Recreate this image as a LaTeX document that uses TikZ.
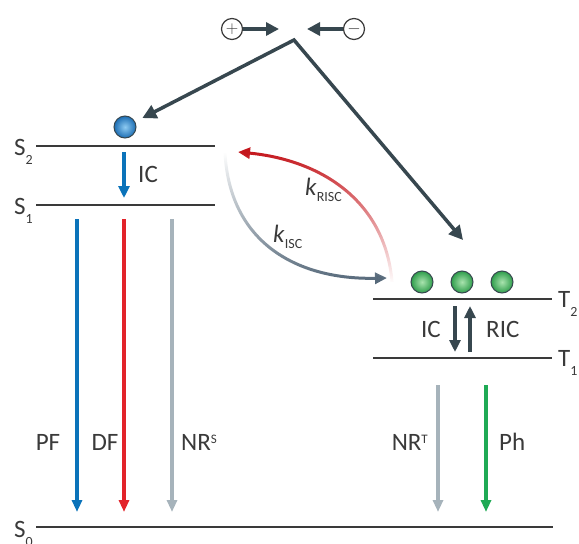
\documentclass[tikz,border=0pt]{standalone}
\usepackage{fontspec}
\setmainfont{Carlito}
\usetikzlibrary{arrows.meta,calc,fadings,positioning}

\definecolor{slate}{HTML}{37474F}
\definecolor{pfblue}{HTML}{0B73BA}
\definecolor{dfred}{HTML}{E2232A}
\definecolor{nrgray}{HTML}{A6B3BB}
\definecolor{phgreen}{HTML}{1FAA55}
\definecolor{risc}{HTML}{C4161C}
\definecolor{isc}{HTML}{56697A}
\definecolor{txt}{HTML}{3A3A3A}
\definecolor{sin}{HTML}{8ECBF2}
\definecolor{sout}{HTML}{1C6DB3}
\definecolor{tin}{HTML}{A9E3AE}
\definecolor{tout}{HTML}{2E9D4B}

\tikzfading[name=fade in, top color=transparent!100, middle color=transparent!75, bottom color=transparent!0]
\tikzfading[name=fade out, top color=transparent!0, middle color=transparent!45, bottom color=transparent!100]

\newcommand{\lvl}[2]{#1\raisebox{-9pt}{\fontsize{14}{14}\selectfont #2}}
\newcommand{\rate}[1]{\textit{k}\raisebox{-6pt}{\fontsize{14}{14}\selectfont #1}}
\newcommand{\supr}[1]{\raisebox{7pt}{\fontsize{13}{13}\selectfont #1}}

\tikzset{
  level/.style={line width=1.3pt, txt},
  decay/.style={-{Triangle[length=12pt,width=10pt]}, line width=3.2pt},
  conv/.style={{Triangle[length=14pt,width=14pt]}-{Triangle[length=14pt,width=14pt]}, line width=3.5pt, slate},
  push/.style={-{Triangle[length=13pt,width=13pt]}, line width=3.8pt, slate},
  ic/.style={-{Triangle[length=12pt,width=11pt]}, line width=3.8pt},
  rate arrow/.style={-{Triangle[length=12pt,width=11pt]}, line width=3pt},
  lbl/.style={font=\fontsize{25}{28}\selectfont, text=txt, inner sep=0pt},
  charge/.style={circle, draw=txt, line width=1.2pt, minimum size=21pt, inner sep=0pt,
    font=\fontsize{18}{18}\selectfont, text=txt},
  sball/.style={circle, draw=slate, line width=1pt, minimum size=22pt, inner sep=0pt,
    inner color=sin, outer color=sout},
  tball/.style={circle, draw=slate, line width=1pt, minimum size=22pt, inner sep=0pt,
    inner color=tin, outer color=tout},
}

\begin{document}
\begin{tikzpicture}[x=1pt,y=-1pt]
  \useasboundingbox (0,0) rectangle (579,544);

  % Charges coming together
  \node[charge] (plus) at (232,29) {$+$};
  \node[charge] (minus) at (354,29) {$-$};
  \coordinate (ptip) at (279,29);
  \coordinate (mtip) at (307,29);
  \draw[push] (plus) -- (ptip);
  \draw[push] (minus) -- (mtip);

  % Excitons
  \node[sball] (s) at (125,127) {};
  \foreach \x/\n in {422/1,462/2,502/3}
    \node[tball] (t\n) at (\x,282) {};

  \coordinate (apex) at (294,40);
  \coordinate (tend) at (463,240);
  \draw[conv, shorten <=8pt] (s) -- (apex) -- (tend);

  % Energy levels
  \coordinate (S2-l) at (36,146);  \coordinate (S2-r) at (215,146);
  \coordinate (S1-l) at (36,205);  \coordinate (S1-r) at (215,205);
  \coordinate (S0-l) at (36,527);  \coordinate (S0-r) at (553,527);
  \coordinate (T2-l) at (373,299); \coordinate (T2-r) at (552,299);
  \coordinate (T1-l) at (373,358); \coordinate (T1-r) at (552,358);
  \foreach \l in {S2,S1,S0,T2,T1}
    \draw[level] (\l-l) -- (\l-r);

  \node[lbl, anchor=base east] at ($(S2-l)+(-3,9)$) {\lvl{S}{2}};
  \node[lbl, anchor=base east] at ($(S1-l)+(-3,9)$) {\lvl{S}{1}};
  \node[lbl, anchor=base east] at ($(S0-l)+(-3,10)$) {\lvl{S}{0}};
  \node[lbl, anchor=base west] at ($(T2-r)+(6,8)$) {\lvl{T}{2}};
  \node[lbl, anchor=base west] at ($(T1-r)+(6,8)$) {\lvl{T}{1}};

  % Internal conversion in the singlet manifold
  \coordinate (ic-a) at (124,152);
  \coordinate (ic-b) at (124,198);
  \draw[ic, pfblue] (ic-a) -- (ic-b);
  \node[lbl, anchor=base west] at (138,182) {IC};

  % Radiative and non-radiative decays
  \foreach \n/\x/\c in {pf/77/pfblue, df/124/dfred, nrs/172/nrgray}{
    \coordinate (\n-a) at (\x,219);
    \coordinate (\n-b) at (\x,512);
    \draw[decay, \c] (\n-a) -- (\n-b);
  }
  \foreach \n/\x/\c in {nrt/438/nrgray, ph/486/phgreen}{
    \coordinate (\n-a) at (\x,385);
    \coordinate (\n-b) at (\x,512);
    \draw[decay, \c] (\n-a) -- (\n-b);
  }
  \node[lbl, anchor=base] at (48,450) {PF};
  \node[lbl, anchor=base] at (105,450) {DF};
  \node[lbl, anchor=base west] at (181,450) {NR\supr{S}};
  \node[lbl, anchor=base east] at (428,450) {NR\supr{T}};
  \node[lbl, anchor=base west] at (499,450) {Ph};

  % Conversion between T2 and T1
  \coordinate (tic-a) at (455,306);
  \coordinate (tic-b) at (455,352);
  \coordinate (ric-a) at (470,352);
  \coordinate (ric-b) at (470,306);
  \draw[ic, slate] (tic-a) -- (tic-b);
  \draw[ic, slate] (ric-a) -- (ric-b);
  \node[lbl, anchor=base east] at (441,337) {IC};
  \node[lbl, anchor=base west] at (486,337) {RIC};

  % Intersystem crossing
  \coordinate (isc-a) at (225,153);
  \coordinate (isc-b) at (387,278);
  \draw[rate arrow, isc, path fading=fade in]
    (isc-a) .. controls (230,245) and (300,280) .. (isc-b);
  \coordinate (risc-a) at (392,282);
  \coordinate (risc-b) at (238,152);
  \draw[rate arrow, risc, path fading=fade out]
    (risc-a) .. controls (385,200) and (320,160) .. (risc-b);
  \node[lbl, anchor=base west] at (305,195) {\rate{RISC}};
  \node[lbl, anchor=base west] at (273,242) {\rate{ISC}};
\end{tikzpicture}
\end{document}
